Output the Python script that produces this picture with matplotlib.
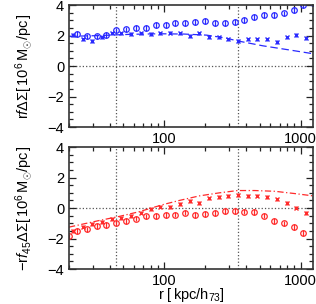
import matplotlib
matplotlib.use("Agg")
import matplotlib.pyplot as plt
from matplotlib.ticker import MultipleLocator, LogLocator, NullFormatter, FixedLocator

plt.rcParams['font.family'] = ['Liberation Sans', 'DejaVu Sans']
plt.rcParams['mathtext.fontset'] = 'custom'
plt.rcParams['mathtext.rm'] = 'Liberation Sans'
plt.rcParams['mathtext.it'] = 'Liberation Sans:italic'

# radii of the two estimators (kpc/h73)
r_circ = [22.9, 27.0, 31.9, 37.6, 44.5, 52.5, 62.0, 73.2, 86.4, 102, 120.5, 142, 168,
          198.5, 234, 277, 327, 386, 456, 538, 636, 750, 887, 1047, 1236]
r_cross = [21.4, 25.2, 29.6, 34.9, 41.2, 48.5, 57.1, 67.3, 79.3, 93.5, 110, 130, 153,
           180, 212, 250, 294, 347, 409, 482, 567, 669, 788, 929, 1094]

# top panel: r f DeltaSigma
top_circ = [2.1, 1.95, 1.95, 2.05, 2.35, 2.4, 2.5, 2.5, 2.7, 2.7, 2.84, 2.84, 2.9,
            2.97, 2.84, 2.84, 2.9, 3.02, 3.23, 3.34, 3.34, 3.45, 3.67, 4.0, 4.15]
top_cross = [2.03, 1.75, 1.66, 1.88, 2.14, 2.14, 2.1, 2.14, 2.12, 2.14, 2.2, 2.14, 1.99,
             2.14, 1.92, 1.88, 1.75, 1.66, 1.75, 1.75, 1.75, 1.6, 1.88, 2.03, 1.81]
top_model_r = [20, 33.2, 55.2, 91.9, 140, 204, 277, 345, 527, 835, 1250]
top_model = [1.95, 2.0, 2.08, 2.12, 2.1, 2.03, 1.85, 1.65, 1.33, 1.05, 0.8]

# bottom panel: -r f45 DeltaSigma
bot_circ_r = [20.1] + r_circ[:24]
bot_circ = [-1.85, -1.5, -1.4, -1.17, -1.11, -0.95, -0.84, -0.7, -0.55, -0.52, -0.46, -0.43,
            -0.3, -0.45, -0.39, -0.31, -0.2, -0.2, -0.24, -0.26, -0.5, -0.85, -1.0, -1.25, -1.64]
bot_cross = [-1.52, -1.22, -1.05, -0.9, -0.72, -0.65, -0.5, -0.3, -0.09, 0.1, 0.05, 0.26, 0.45,
             0.35, 0.63, 0.74, 0.8, 0.85, 0.8, 0.82, 0.74, 0.57, 0.35, 0.03, -0.31]
bot_model_r = [20, 33.2, 46.6, 65.4, 80.2, 100, 129, 181, 254, 345, 460, 647, 906, 1230]
bot_model = [-1.25, -0.82, -0.55, -0.24, 0.0, 0.25, 0.5, 0.8, 1.0, 1.15, 1.15, 1.1, 0.95, 0.8]

vlines = [44.3, 345]

blue = '#2a2aff'
red = '#ff2a2a'

fig = plt.figure(figsize=(3.16, 3.04), dpi=100)
ax1 = fig.add_axes([0.2184, 0.5822, 0.772, 0.401])
ax2 = fig.add_axes([0.2184, 0.1151, 0.772, 0.401])


def style(ax):
    ax.set_xscale('log')
    ax.set_xlim(20, 1230)
    ax.set_ylim(-4, 4)
    ax.yaxis.set_major_locator(FixedLocator([-4, -2, 0, 2, 4]))
    ax.yaxis.set_minor_locator(MultipleLocator(0.5))
    ax.xaxis.set_major_locator(FixedLocator([100, 1000]))
    ax.xaxis.set_minor_locator(LogLocator(base=10, subs=range(2, 10)))
    ax.xaxis.set_minor_formatter(NullFormatter())
    ax.set_xticklabels(['100', '1000'])
    ax.set_yticklabels(['\u22124', '\u22122', '0', '2', '4'])
    ax.tick_params(which='both', direction='in', top=True, right=True,
                   labelsize=10.5, width=0.9, color='#222222')
    ax.tick_params(which='major', length=5)
    ax.tick_params(which='minor', length=2.6)
    for s in ax.spines.values():
        s.set_linewidth(1.2)
        s.set_color('#333333')
    ax.axhline(0, color='#555555', ls=':', lw=0.9, zorder=1)
    for v in vlines:
        ax.axvline(v, color='#555555', ls=':', lw=0.9, zorder=1)


style(ax1)
style(ax2)

ax1.errorbar(r_circ, top_circ, yerr=0.18, fmt='o', ms=4.0, mfc='none', mec=blue,
             ecolor=blue, mew=0.9, elinewidth=0.9, capsize=0)
ax1.errorbar(r_cross, top_cross, yerr=0.12, fmt='x', ms=3.4, mec=blue,
             ecolor=blue, mew=1.0, elinewidth=0.9, capsize=0)
ax1.plot(top_model_r, top_model, color=blue, ls=(0, (6, 3)), lw=0.9)

ax2.errorbar(bot_circ_r, bot_circ, yerr=0.18, fmt='o', ms=4.0, mfc='none', mec=red,
             ecolor=red, mew=0.9, elinewidth=0.9, capsize=0)
ax2.errorbar(r_cross, bot_cross, yerr=0.12, fmt='x', ms=3.4, mec=red,
             ecolor=red, mew=1.0, elinewidth=0.9, capsize=0)
ax2.plot(bot_model_r, bot_model, color=red, ls=(0, (5, 2, 1, 2)), lw=0.9)

ax1.set_ylabel(r'$\mathrm{r}f\Delta\Sigma[\,10^{6}\,\mathrm{M}_{\odot}/\mathrm{pc}\,]$',
               fontsize=10.5)
ax2.set_ylabel(r'$-\mathrm{r}f_{45}\Delta\Sigma[\,10^{6}\,\mathrm{M}_{\odot}/\mathrm{pc}\,]$',
               fontsize=10.5)
ax1.yaxis.set_label_coords(-0.145, 0.5)
ax2.yaxis.set_label_coords(-0.145, 0.5)
ax2.set_xlabel(r'r $[\,\mathrm{kpc/h_{73}}]$', fontsize=10.5)
ax2.xaxis.set_label_coords(0.5, -0.14)

fig.savefig('out.png', dpi=100)
